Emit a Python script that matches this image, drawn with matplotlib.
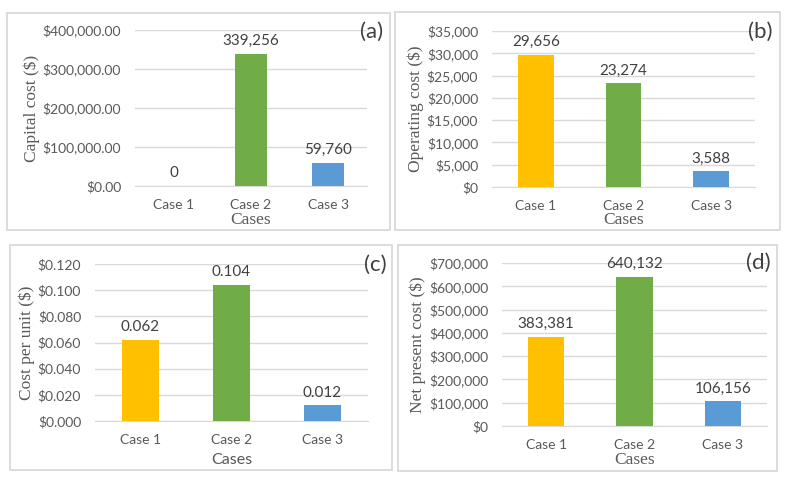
import matplotlib.pyplot as plt
from matplotlib.patches import Rectangle
from matplotlib.ticker import FuncFormatter, MultipleLocator

cases = ["Case 1", "Case 2", "Case 3"]
colors = ["#FFC000", "#70AD47", "#5B9BD5"]

capital_cost = [0, 339256, 59760]
operating_cost = [29656, 23274, 3588]
cost_per_unit = [0.062, 0.104, 0.012]
net_present_cost = [383381, 640132, 106156]

W, H = 791, 488
grey = "#595959"
grid = "#D9D9D9"
sans = "Lato"
serif = "Liberation Serif"

fig = plt.figure(figsize=(W / 100, H / 100), dpi=100)


def px_axes(left, top, right, bottom):
    return fig.add_axes([left / W, 1 - bottom / H, (right - left) / W, (bottom - top) / H])


def px_box(left, top, right, bottom):
    fig.patches.append(Rectangle((left / W, 1 - bottom / H), (right - left) / W, (bottom - top) / H,
                                 transform=fig.transFigure, fill=False, ec=grid, lw=1.3))


def panel(ax, box, values, ymax, step, tickfmt, labelfmt, ylabel, tag, tagpos,
          ylab_x, cases_y, cases_font):
    left, top, right, bottom = box
    ax.bar(range(3), values, width=0.41, color=colors, zorder=3)
    ax.set_xlim(-0.5, 2.5)
    ax.set_ylim(0, ymax)
    ax.yaxis.set_major_locator(MultipleLocator(step))
    ax.yaxis.set_major_formatter(FuncFormatter(lambda v, p: tickfmt(v)))
    ax.grid(axis="y", color=grid, lw=1, zorder=0)
    for s in ["top", "right", "left"]:
        ax.spines[s].set_visible(False)
    ax.spines["bottom"].set_color(grid)
    ax.tick_params(length=0, labelsize=10, labelcolor=grey)
    ax.tick_params(axis="y", pad=10)
    ax.tick_params(axis="x", pad=9.5)
    ax.set_xticks(range(3))
    ax.set_xticklabels(cases, fontfamily=sans)
    for t in ax.get_yticklabels():
        t.set_fontfamily(sans)

    ax.set_ylabel(ylabel, fontfamily=serif, fontsize=12.5, color=grey)
    ax.yaxis.set_label_coords((ylab_x - left) / (right - left), 0.5)
    ax.yaxis.label.set_va("center")
    if cases_font == "serif":
        ax.set_xlabel("Cases", fontfamily=serif, fontsize=12.5, color=grey)
    else:
        ax.set_xlabel("Cases", fontfamily=sans, fontsize=11.5, color=grey)
    ax.xaxis.set_label_coords(0.5, -(cases_y - bottom) / (bottom - top))
    ax.xaxis.label.set_va("center")

    for i, v in enumerate(values):
        ax.annotate(labelfmt(v), (i, v), xytext=(0, 4), textcoords="offset points",
                    ha="center", va="bottom", fontsize=11, color="#404040", fontfamily=sans)
    fig.text(tagpos[0] / W, 1 - tagpos[1] / H, tag, ha="center", va="center",
             fontsize=16, color="#404040", fontfamily=sans)


px_box(7, 13, 390, 230)
px_box(395, 12, 780, 230)
px_box(10, 245, 392, 470)
px_box(398, 245, 777, 471)

box_a = (135, 30, 367, 186)
panel(px_axes(*box_a), box_a, capital_cost, 400000, 100000, lambda v: "${:,.2f}".format(v),
      lambda v: "{:,.0f}".format(v), "Capital cost ($)", "(a)", (372, 32), 32, 220, "serif")

box_b = (492, 31, 755, 187)
panel(px_axes(*box_b), box_b, operating_cost, 35000, 5000, lambda v: "${:,.0f}".format(v),
      lambda v: "{:,.0f}".format(v), "Operating cost ($)", "(b)", (760, 32), 416, 220, "serif")

box_c = (95, 264, 368, 421)
panel(px_axes(*box_c), box_c, cost_per_unit, 0.12, 0.02, lambda v: "${:.3f}".format(v),
      lambda v: "{:.3f}".format(v), "Cost per unit ($)", "(c)", (375, 265), 27, 460, "sans")

box_d = (502, 263, 767, 426)
panel(px_axes(*box_d), box_d, net_present_cost, 700000, 100000, lambda v: "${:,.0f}".format(v),
      lambda v: "{:,.0f}".format(v), "Net present cost ($)", "(d)", (758, 263), 418, 460, "serif")

fig.savefig("out.png", dpi=100)
